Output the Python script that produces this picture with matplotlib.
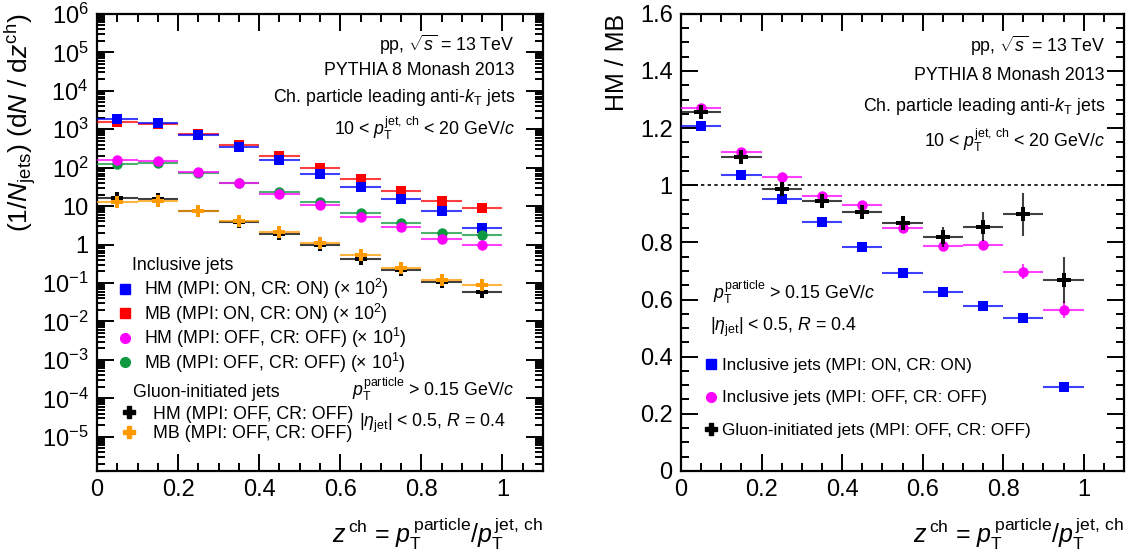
import numpy as np
import matplotlib
matplotlib.use("Agg")
import matplotlib.pyplot as plt
from matplotlib.ticker import MultipleLocator, LogLocator, FuncFormatter, NullFormatter
from matplotlib.lines import Line2D

plt.rcParams['font.family'] = ['Liberation Sans', 'DejaVu Sans']
plt.rcParams['mathtext.fontset'] = 'custom'
plt.rcParams['mathtext.rm'] = 'Liberation Sans'
plt.rcParams['mathtext.it'] = 'Liberation Sans:italic'
plt.rcParams['mathtext.bf'] = 'Liberation Sans:bold'

# bins in z^ch
z_centers = [0.05, 0.15, 0.25, 0.35, 0.45, 0.55, 0.65, 0.75, 0.85, 0.95]
z_halfwidth = 0.05

# inclusive jets, MPI ON / CR ON (plotted x 10^2)
hm_on = [18.4, 14.5, 7.2, 3.44, 1.58, 0.68, 0.307, 0.149, 0.073, 0.027]
mb_on = [15.2, 13.9, 7.56, 3.87, 2.04, 1.00, 0.496, 0.25, 0.133, 0.090]
scale_on = 100

# inclusive jets, MPI OFF / CR OFF (plotted x 10^1)
hm_off = [15.5, 14.6, 7.58, 3.90, 2.11, 1.07, 0.53, 0.286, 0.136, 0.100]
mb_off = [12.4, 12.9, 7.36, 4.04, 2.27, 1.25, 0.67, 0.36, 0.195, 0.176]
scale_off = 10

# gluon-initiated jets, MPI OFF / CR OFF
hm_gluon = [16.3, 15.2, 7.45, 3.80, 1.90, 0.96, 0.43, 0.215, 0.108, 0.059]
mb_gluon = [13.0, 13.8, 7.55, 4.00, 2.10, 1.10, 0.53, 0.25, 0.12, 0.088]
hm_gluon_err = [0.4, 0.35, 0.15, 0.08, 0.05, 0.03, 0.02, 0.012, 0.008, 0.005]
mb_gluon_err = [0.2, 0.2, 0.1, 0.05, 0.03, 0.02, 0.01, 0.006, 0.004, 0.003]

# HM / MB ratios
ratio_on = [1.209, 1.036, 0.952, 0.873, 0.785, 0.693, 0.626, 0.579, 0.537, 0.295]
ratio_on_err = [0.004, 0.004, 0.004, 0.005, 0.005, 0.006, 0.007, 0.008, 0.01, 0.012]
ratio_off = [1.272, 1.118, 1.028, 0.962, 0.930, 0.850, 0.788, 0.791, 0.698, 0.564]
ratio_off_err = [0.005, 0.005, 0.005, 0.006, 0.007, 0.009, 0.012, 0.018, 0.025, 0.03]
ratio_gluon = [1.258, 1.100, 0.986, 0.945, 0.906, 0.867, 0.820, 0.855, 0.899, 0.669]
ratio_gluon_err = [0.012, 0.012, 0.012, 0.014, 0.017, 0.024, 0.035, 0.05, 0.075, 0.08]

BLUE = '#0000ff'
RED = '#ff0000'
MAGENTA = '#ff00ff'
GREEN = '#0f9940'
BLACK = '#000000'
ORANGE = '#ff9a00'

TICK_FS = 17
LABEL_FS = 18
TEXT_FS = 12.8
LEG_FS = 12.8
LEG2_FS = 12.3


def draw(ax, y, color, marker, ms, yerr=None, zorder=3):
    ax.errorbar(z_centers, y, xerr=z_halfwidth, yerr=yerr, fmt=marker, color=color,
                ms=ms, mec=color, mew=0, elinewidth=1.5, capsize=0, zorder=zorder,
                ecolor=matplotlib.colors.to_rgba(color, 0.75))


def style_axes(ax):
    ax.tick_params(which='both', direction='in', top=True, right=True, width=1.4,
                   labelsize=TICK_FS, pad=6)
    ax.tick_params(which='major', length=12)
    ax.tick_params(which='minor', length=6)
    for s in ax.spines.values():
        s.set_linewidth(1.6)


def log_label(v, pos):
    if np.isclose(v, 1):
        return '1'
    if np.isclose(v, 10):
        return '10'
    return r'$10^{%d}$' % int(round(np.log10(v)))


fig = plt.figure(figsize=(11.3, 5.54), dpi=100)
ax1 = fig.add_axes([0.0858, 0.150, 0.3947, 0.825])
ax2 = fig.add_axes([0.6027, 0.150, 0.3920, 0.825])

# ---- left panel: distributions
draw(ax1, [v * scale_on for v in mb_on], RED, 's', 7)
draw(ax1, [v * scale_on for v in hm_on], BLUE, 's', 7)
draw(ax1, [v * scale_off for v in mb_off], GREEN, 'o', 7.5)
draw(ax1, [v * scale_off for v in hm_off], MAGENTA, 'o', 7.5)
draw(ax1, hm_gluon, BLACK, 'P', 9, yerr=hm_gluon_err)
draw(ax1, mb_gluon, ORANGE, 'P', 9, yerr=mb_gluon_err)

ax1.set_yscale('log')
ax1.set_xlim(0, 1.1)
ax1.set_ylim(1.3e-6, 1e6)
ax1.xaxis.set_major_locator(MultipleLocator(0.2))
ax1.xaxis.set_minor_locator(MultipleLocator(0.05))
ax1.yaxis.set_major_locator(LogLocator(base=10, numticks=30))
ax1.yaxis.set_minor_locator(LogLocator(base=10, subs=np.arange(2, 10), numticks=300))
ax1.yaxis.set_major_formatter(FuncFormatter(log_label))
ax1.yaxis.set_minor_formatter(NullFormatter())
ax1.xaxis.set_major_formatter(FuncFormatter(lambda v, p: '%g' % round(v, 2)))
style_axes(ax1)
ax1.set_ylabel(r'(1/$N_{\mathrm{jets}}$) (d$N$ / d$z^{\mathrm{ch}}$)', fontsize=19, loc='top', labelpad=3)
ax1.set_xlabel(r'$z^{\,\mathrm{ch}}$ = $p_{\mathrm{T}}^{\,\mathrm{particle}}$/$p_{\mathrm{T}}^{\,\mathrm{jet,\,ch}}$',
               fontsize=LABEL_FS, loc='right', labelpad=10)

ax1.text(0.937, 0.933, r'pp, $\sqrt{s}$ = 13 TeV', transform=ax1.transAxes, ha='right', va='center', fontsize=TEXT_FS)
ax1.text(0.937, 0.877, 'PYTHIA 8 Monash 2013', transform=ax1.transAxes, ha='right', va='center', fontsize=TEXT_FS)
ax1.text(0.937, 0.818, r'Ch. particle leading anti-$k_{\mathrm{T}}$ jets', transform=ax1.transAxes, ha='right', va='center', fontsize=TEXT_FS)
ax1.text(0.937, 0.750, r'10 < $p_{\mathrm{T}}^{\mathrm{jet,\,ch}}$ < 20 GeV/$c$', transform=ax1.transAxes, ha='right', va='center', fontsize=TEXT_FS)
ax1.text(0.572, 0.178, r'$p_{\mathrm{T}}^{\mathrm{particle}}$ > 0.15 GeV/$c$', transform=ax1.transAxes, ha='left', va='center', fontsize=TEXT_FS)
ax1.text(0.587, 0.103, r'|$\eta_{\mathrm{jet}}$| < 0.5, $R$ = 0.4', transform=ax1.transAxes, ha='left', va='center', fontsize=TEXT_FS)

ax1.text(0.078, 0.449, 'Inclusive jets', transform=ax1.transAxes, ha='left', va='center', fontsize=LEG_FS)
h_incl = [Line2D([], [], ls='none', marker='s', color=BLUE, ms=6.5),
          Line2D([], [], ls='none', marker='s', color=RED, ms=6.5),
          Line2D([], [], ls='none', marker='o', color=MAGENTA, ms=7),
          Line2D([], [], ls='none', marker='o', color=GREEN, ms=7)]
l_incl = [r'HM (MPI: ON, CR: ON) ($\times$ 10$^{2}$)',
          r'MB (MPI: ON, CR: ON) ($\times$ 10$^{2}$)',
          r'HM (MPI: OFF, CR: OFF) ($\times$ 10$^{1}$)',
          r'MB (MPI: OFF, CR: OFF) ($\times$ 10$^{1}$)']
leg1 = ax1.legend(h_incl, l_incl, loc='upper left', bbox_to_anchor=(0.047, 0.424), frameon=False,
                  fontsize=LEG_FS, handlelength=0.8, handletextpad=0.65, labelspacing=0.02,
                  borderpad=0, borderaxespad=0)
ax1.add_artist(leg1)

ax1.text(0.080, 0.172, 'Gluon-initiated jets', transform=ax1.transAxes, ha='left', va='center', fontsize=LEG_FS)
h_glu = [Line2D([], [], ls='none', marker='P', color=BLACK, ms=9),
         Line2D([], [], ls='none', marker='P', color=ORANGE, ms=9)]
l_glu = ['HM (MPI: OFF, CR: OFF)', 'MB (MPI: OFF, CR: OFF)']
ax1.legend(h_glu, l_glu, loc='upper left', bbox_to_anchor=(0.056, 0.143), frameon=False,
           fontsize=LEG_FS, handlelength=0.8, handletextpad=0.95, labelspacing=0.15,
           borderpad=0, borderaxespad=0)

# ---- right panel: ratios
ax2.axhline(1, color='black', lw=1.2, ls=(0, (2, 2)), zorder=1)
draw(ax2, ratio_on, BLUE, 's', 7, yerr=ratio_on_err)
draw(ax2, ratio_off, MAGENTA, 'o', 7.5, yerr=ratio_off_err)
draw(ax2, ratio_gluon, BLACK, 'P', 9.5, yerr=ratio_gluon_err, zorder=4)

ax2.set_xlim(0, 1.1)
ax2.set_ylim(0, 1.6)
ax2.xaxis.set_major_locator(MultipleLocator(0.2))
ax2.xaxis.set_minor_locator(MultipleLocator(0.05))
ax2.yaxis.set_major_locator(MultipleLocator(0.2))
ax2.yaxis.set_minor_locator(MultipleLocator(0.05))
ax2.xaxis.set_major_formatter(FuncFormatter(lambda v, p: '%g' % round(v, 2)))
ax2.yaxis.set_major_formatter(FuncFormatter(lambda v, p: '%g' % round(v, 2)))
style_axes(ax2)
ax2.set_ylabel('HM / MB', fontsize=LABEL_FS, loc='top', labelpad=8)
ax2.set_xlabel(r'$z^{\,\mathrm{ch}}$ = $p_{\mathrm{T}}^{\,\mathrm{particle}}$/$p_{\mathrm{T}}^{\,\mathrm{jet,\,ch}}$',
               fontsize=LABEL_FS, loc='right', labelpad=10)

ax2.text(0.957, 0.930, r'pp, $\sqrt{s}$ = 13 TeV', transform=ax2.transAxes, ha='right', va='center', fontsize=TEXT_FS)
ax2.text(0.957, 0.865, 'PYTHIA 8 Monash 2013', transform=ax2.transAxes, ha='right', va='center', fontsize=TEXT_FS)
ax2.text(0.957, 0.798, r'Ch. particle leading anti-$k_{\mathrm{T}}$ jets', transform=ax2.transAxes, ha='right', va='center', fontsize=TEXT_FS)
ax2.text(0.957, 0.724, r'10 < $p_{\mathrm{T}}^{\mathrm{jet,\,ch}}$ < 20 GeV/$c$', transform=ax2.transAxes, ha='right', va='center', fontsize=TEXT_FS)
ax2.text(0.072, 0.390, r'$p_{\mathrm{T}}^{\mathrm{particle}}$ > 0.15 GeV/$c$', transform=ax2.transAxes, ha='left', va='center', fontsize=TEXT_FS)
ax2.text(0.066, 0.313, r'|$\eta_{\mathrm{jet}}$| < 0.5, $R$ = 0.4', transform=ax2.transAxes, ha='left', va='center', fontsize=TEXT_FS)

h_rat = [Line2D([], [], ls='none', marker='s', color=BLUE, ms=6.5),
         Line2D([], [], ls='none', marker='o', color=MAGENTA, ms=7),
         Line2D([], [], ls='none', marker='P', color=BLACK, ms=9)]
l_rat = ['Inclusive jets (MPI: ON, CR: ON)', 'Inclusive jets (MPI: OFF, CR: OFF)',
         'Gluon-initiated jets (MPI: OFF, CR: OFF)']
ax2.legend(h_rat, l_rat, loc='upper left', bbox_to_anchor=(0.052, 0.248), frameon=False,
           fontsize=LEG2_FS, handlelength=0.8, handletextpad=0.25, labelspacing=1.05,
           borderpad=0, borderaxespad=0)

fig.savefig('out.png', dpi=100)
